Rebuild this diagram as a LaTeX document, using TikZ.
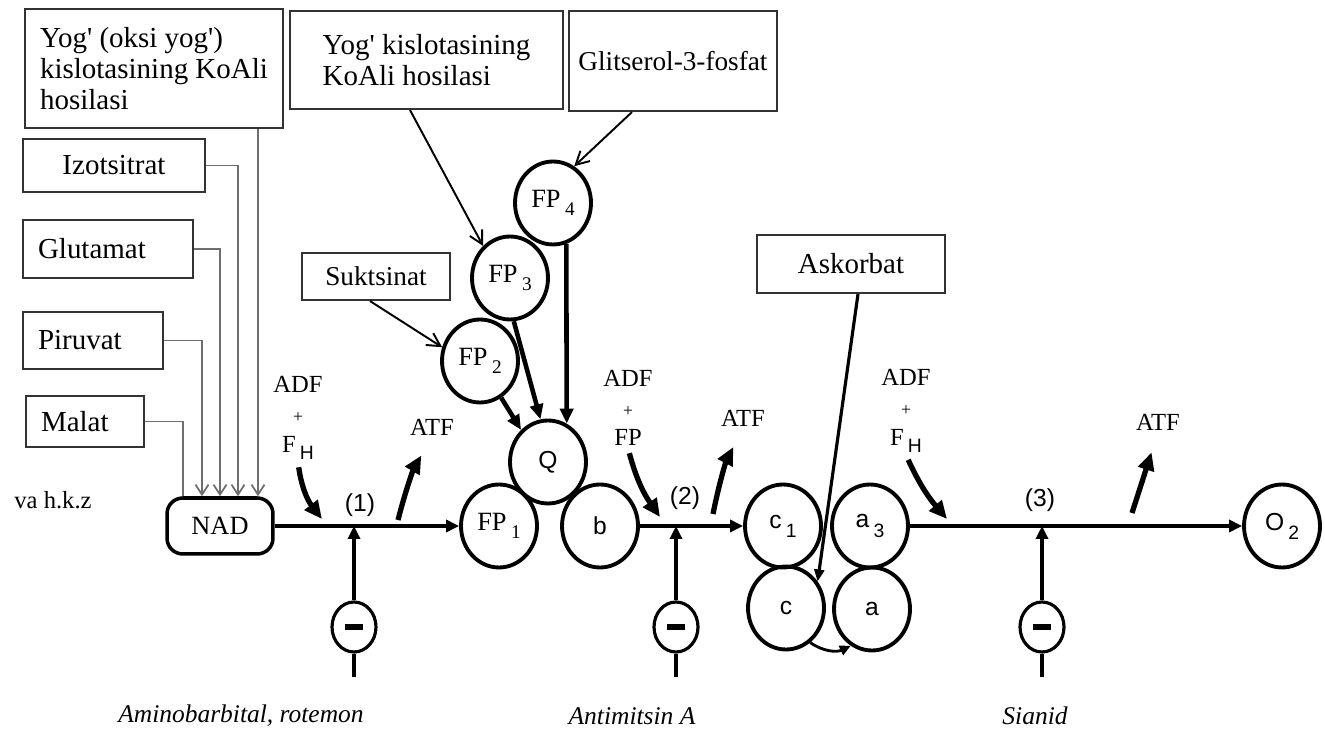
\documentclass[tikz,border=0pt]{standalone}
\usepackage{fontspec}
\setmainfont{Liberation Serif}
\setsansfont{Liberation Sans}
\usepackage{tikz}
\usetikzlibrary{arrows.meta,shapes.geometric}
\definecolor{boxline}{HTML}{333333}
\definecolor{feedgray}{HTML}{6E6E6E}
\newcommand{\subtxt}[1]{\,\raisebox{-0.7ex}{\fontsize{11}{11}\selectfont #1}}

\begin{document}
\begin{tikzpicture}[x=0.02cm,y=0.02cm,
		bx/.style={draw=boxline,line width=1.2pt,font=\fontsize{16.5}{17.8}\selectfont,inner xsep=0.3cm,align=left},
		car/.style={ellipse,draw,line width=2.2pt,minimum width=1.52cm,minimum height=1.66cm,inner sep=0pt,font=\fontsize{15}{17}\selectfont},
		cs/.style={car,font=\sffamily\fontsize{14}{16}\selectfont},
		inh/.style={ellipse,draw,line width=1.8pt,minimum width=0.88cm,minimum height=1.0cm,inner sep=0pt},
		lb/.style={font=\fontsize{14}{17}\selectfont,align=center,inner sep=1pt},
		num/.style={font=\sffamily\fontsize{14}{16}\selectfont,inner sep=1pt},
		drug/.style={font=\itshape\fontsize{14.5}{17}\selectfont},
		fd/.style={draw=feedgray,line width=1pt,-{Straight Barb[length=2mm,width=2.6mm]}},
		e/.style={line width=1.1pt,-{Straight Barb[length=2.6mm,width=2.8mm]}},
		te/.style={line width=2.6pt,-{Triangle[length=3mm,width=2.6mm]}},
		ml/.style={line width=2.3pt,-{Triangle[length=2.6mm,width=2.4mm]}},
		ea/.style={line width=3pt,-{Triangle[length=3.6mm,width=3.2mm]}}
		]
		\useasboundingbox (0,0) rectangle (1325,-742);

		% substrates feeding NAD
		\node[bx,minimum width=5.12cm,minimum height=2.38cm] (yoa) at (154,-68.5) {Yog\textquotesingle{} (oksi yog\textquotesingle)\\kislotasining KoAli\\hosilasi};
		\node[bx,text width=3.04cm,minimum height=1.06cm,align=center] (izo) at (114,-165.5) {Izotsitrat};
		\node[bx,text width=2.8cm,minimum height=1.16cm] (glu) at (108,-249) {Glutamat};
		\node[bx,text width=2.2cm,minimum height=1.14cm] (piru) at (93,-340.5) {Piruvat};
		\node[bx,text width=1.76cm,minimum height=1.02cm] (mal) at (85,-421.5) {Malat};
		\node[lb] (etc) at (53,-500) {va h.k.z};
		\node[bx,draw=black,line width=2pt,rounded corners=9pt,minimum width=2.12cm,minimum height=1.12cm,inner xsep=2pt,align=center,font=\fontsize{15}{17}\selectfont] (nad) at (220,-526) {NAD};
		\draw[fd] (yoa.south -| 258,0) -- (258,0 |- nad.north);
		\draw[fd] (izo.east) -| (238,0 |- nad.north);
		\draw[fd] (glu.east) -| (220,0 |- nad.north);
		\draw[fd] (piru.east) -| (202,0 |- nad.north);
		\draw[draw=feedgray,line width=1pt] (mal.east) -| (183,0 |- nad.north);

		% flavoproteins and Q
		\node[bx,minimum width=5.46cm,minimum height=1.96cm] (fatty) at (426.5,-60) {Yog\textquotesingle{} kislotasining\\KoAli hosilasi};
		\node[bx,minimum width=4.16cm,minimum height=2.0cm,inner xsep=2pt,font=\fontsize{15.5}{17.6}\selectfont] (glit) at (673,-61) {Glitserol-3-fosfat};
		\node[bx,minimum width=2.96cm,minimum height=0.94cm,font=\fontsize{15.5}{17.6}\selectfont] (suk) at (376,-276.5) {Suktsinat};
		\node[car] (fp4) at (553,-203) {FP\subtxt{4}};
		\node[car] (fp3) at (510,-278) {FP\subtxt{3}};
		\node[car] (fp2) at (480,-361) {FP\subtxt{2}};
		\node[cs] (q) at (548,-462) {Q};
		\node[car] (fp1) at (499,-526) {FP\subtxt{1}};
		\node[cs] (b) at (600,-526) {b};
		\draw[e] (fatty.south -| 410,0) -- (fp3.130);
		\draw[e] (glit.south -| 632,0) -- (fp4.60);
		\draw[e] (suk.south -| 370,0) -- (fp2.160);
		\draw[te] (fp2.-60) -- (q.130);
		\draw[te] (fp3.-85) -- (q.100);
		\draw[te] (fp4.-72) -- (q.64);

		% cytochromes
		\node[bx,minimum width=3.76cm,minimum height=1.16cm] (asko) at (851,-264) {Askorbat};
		\node[cs] (c1) at (783,-526) {c\subtxt{1}};
		\node[cs] (a3) at (870,-526) {a\subtxt{3}};
		\node[cs] (c) at (786,-608) {c};
		\node[cs] (a) at (872,-609) {a};
		\node[cs] (o2) at (1282,-526) {O\subtxt{2}};
		\draw[line width=1.8pt,-{Triangle[length=2.4mm,width=2mm]}] (asko.south -| 858,0) -- (c.40);
		\draw[line width=1.6pt,-{Triangle[length=2.2mm,width=2mm]}] (c.-55) to[bend right=30] (a.-120);

		% main chain
		\draw[ml] (nad.east) -- (fp1.west);
		\draw[ml] (b.east) -- (c1.west);
		\draw[ml] (a3.east) -- (o2.west);

		% phosphorylation sites
		\node[lb] (in1) at (298,-418) {ADF\\{\fontsize{10}{10}\selectfont+}\\F\subtxt{\sffamily H}};
		\node[lb] (in2) at (628,-408) {ADF\\{\fontsize{10}{10}\selectfont+}\\FP};
		\node[lb] (in3) at (906,-411) {ADF\\{\fontsize{10}{10}\selectfont+}\\F\subtxt{\sffamily H}};
		\node[lb] (atf1) at (432,-427) {ATF};
		\node[lb] (atf2) at (743,-418) {ATF};
		\node[lb] (atf3) at (1158,-422) {ATF};
		\node[num] (st1) at (360,-505) {(1)};
		\node[num] (st2) at (685,-498) {(2)};
		\node[num] (st3) at (1040,-500) {(3)};
		\coordinate (h1) at (322,-519); \coordinate (g1) at (398,-520);
		\coordinate (h2) at (660,-517); \coordinate (g2) at (713,-514);
		\coordinate (h3) at (947,-519); \coordinate (g3) at (1132,-513);
		\draw[ea,shorten <=3pt] (in1.south) to[bend right=15] (h1);
		\draw[ea,shorten <=3pt] (in2.south) to[bend right=10] (h2);
		\draw[ea,shorten <=3pt] (in3.south) to[bend right=8] (h3);
		\draw[ea,shorten >=12pt] (g1) to[bend left=8] (atf1.south);
		\draw[ea,shorten >=12pt] (g2) to[bend left=8] (atf2.south);
		\draw[ea,shorten >=12pt] (g3) -- (atf3.south);

		% inhibitors
		\foreach \k/\xx in {1/354,2/676,3/1042}{
			\node[inh] (inh\k) at (\xx,-627) {\rule{0.36cm}{0.11cm}};
			\coordinate (hit\k) at (\xx,-526);
			\coordinate (tail\k) at (\xx,-677);
			\draw[ml] (inh\k.north) -- (hit\k);
			\draw[line width=1.8pt] (inh\k.south) -- (tail\k);
		}
		\node[drug] (d1) at (241,-716) {Aminobarbital, rotemon};
		\node[drug] (d2) at (632,-716) {Antimitsin A};
		\node[drug] (d3) at (1035,-716) {Sianid};
	\end{tikzpicture}
\end{document}
